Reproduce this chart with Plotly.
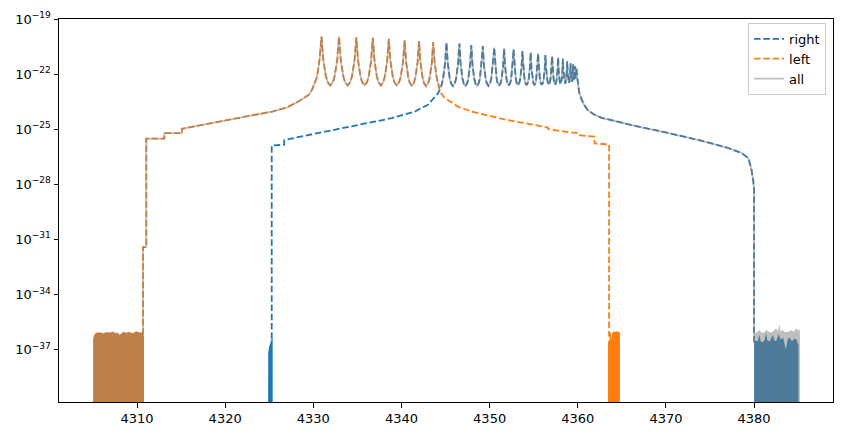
import plotly.graph_objects as go

# ---------------- data (values are log10 of intensity) ----------------
# "left" component: staircase rise, peak series, fall
left_rise_x = [4310.68, 4310.68, 4311.05, 4311.05, 4313.1, 4313.1, 4315.1, 4315.1, 4316.5, 4317.8,
               4319.7, 4321.6, 4323.5, 4325.35, 4327.0, 4328.36, 4329.5, 4329.86, 4330.43, 4330.7]
left_rise_y = [-36.2, -31.43, -31.43, -25.52, -25.52, -25.22, -25.22, -24.98, -24.85, -24.73,
               -24.57, -24.40, -24.23, -24.04, -23.82, -23.48, -23.12, -22.85, -22.14, -21.23]
left_peak_x = [4330.93, 4332.91, 4334.88, 4336.75, 4338.56, 4340.36, 4341.99, 4343.60]
left_peak_top = [-19.96, -19.96, -20.0, -20.03, -20.08, -20.16, -20.2, -20.26]
left_valley = [-22.62, -22.62, -22.62, -22.62, -22.62, -22.64, -22.66]
left_fall_x = [4343.67, 4343.76, 4344.0, 4344.36, 4344.9, 4346.4, 4348.0, 4350.2, 4352.0, 4353.95,
               4356.6, 4356.65, 4358.0, 4360.0, 4360.05, 4361.1, 4361.85, 4361.9, 4363.43, 4363.55, 4363.55]
left_fall_y = [-20.74, -21.39, -22.2, -22.95, -23.31, -23.77, -24.05, -24.31, -24.5, -24.67,
               -24.91, -24.99, -25.1, -25.22, -25.32, -25.38, -25.4, -25.78, -25.83, -25.83, -36.3]

# "right" component
right_rise_x = [4325.28, 4325.28, 4326.7, 4326.7, 4328.4, 4331.4, 4335.1, 4338.9, 4341.5, 4343.0,
                4344.16, 4344.5, 4344.73, 4344.95, 4345.03]
right_rise_y = [-36.42, -25.89, -25.85, -25.6, -25.42, -25.12, -24.76, -24.4, -24.04, -23.67,
                -23.04, -22.68, -22.21, -21.4, -20.76]
right_peak_x = [4345.10, 4346.57, 4347.92, 4349.22, 4350.51, 4351.64, 4352.71, 4353.72, 4354.66, 4355.49,
                4356.33, 4357.09, 4357.77, 4358.31, 4358.80, 4359.18, 4359.46, 4359.68, 4359.85]
right_peak_top = [-20.28, -20.34, -20.43, -20.48, -20.55, -20.62, -20.66, -20.74, -20.82, -20.88,
                  -20.96, -21.03, -21.1, -21.17, -21.3, -21.41, -21.47, -21.57, -21.65]
right_valley = [-22.66, -22.66, -22.65, -22.64, -22.63, -22.62, -22.61, -22.6, -22.6, -22.59,
                -22.58, -22.57, -22.55, -22.52, -22.48, -22.42, -22.35, -22.25]
right_fall_x = [4359.92, 4360.0, 4360.16, 4360.45, 4360.75, 4361.1, 4361.85, 4362.7, 4363.9, 4366.5,
                4370.3, 4374.1, 4376.9, 4378.6, 4379.35, 4379.7, 4379.9, 4380.0, 4380.0]
right_fall_y = [-22.1, -22.5, -23.0, -23.4, -23.7, -23.95, -24.2, -24.38, -24.53, -24.82,
                -25.21, -25.64, -26.0, -26.3, -26.58, -27.2, -27.8, -28.3, -36.6]

# "all": valley where the two components cross
all_cross_x = [4344.3]
all_cross_y = [-22.72]

# peak profile: offset (fraction of spacing), depth (fraction of top-valley)
shape_f = [0.045, 0.1, 0.25, 0.35]
shape_d = [0.2, 0.47, 0.81, 0.93]

# noise floors (top envelope, log10)
left_noise_x = [4305.03, 4305.12, 4305.3, 4305.6, 4305.9, 4306.2, 4306.5, 4306.9, 4307.3, 4307.6,
                4307.8, 4308.0, 4308.4, 4308.8, 4309.1, 4309.5, 4309.9, 4310.3, 4310.68, 4310.79]
left_noise_y = [-36.45, -36.22, -36.1, -36.06, -36.1, -36.13, -36.08, -36.08, -36.06, -36.13,
                -36.06, -36.22, -36.05, -36.1, -36.04, -36.13, -36.02, -36.06, -36.13, -36.32]
left_mid_noise_x = [4363.43, 4363.6, 4363.65, 4363.75, 4363.84, 4363.9, 4364.1, 4364.3, 4364.48, 4364.65, 4364.78]
left_mid_noise_y = [-36.55, -36.5, -36.1, -36.08, -36.45, -36.1, -36.0, -36.05, -36.0, -36.05, -36.1]
right_mid_noise_x = [4324.86, 4324.88, 4324.98, 4325.1, 4325.17, 4325.28, 4325.39]
right_mid_noise_y = [-37.5, -37.22, -36.86, -36.65, -36.5, -36.42, -36.4]
right_noise_x = [4380.0, 4380.15, 4380.4, 4380.6, 4380.75, 4381.0, 4381.2, 4381.35, 4381.5, 4381.8,
                 4382.1, 4382.3, 4382.5, 4382.8, 4383.0, 4383.3, 4383.6, 4383.8, 4384.0, 4384.3,
                 4384.6, 4384.8, 4384.95, 4385.04]
right_noise_y = [-36.6, -36.52, -36.55, -36.2, -36.55, -36.6, -36.45, -36.1, -36.5, -36.55,
                 -36.2, -36.5, -36.55, -36.15, -36.45, -36.35, -37.0, -36.45, -36.35, -36.55,
                 -36.4, -36.45, -36.7, -36.75]
all_noise_l_x = [4305.03, 4305.12, 4305.3, 4305.6, 4305.9, 4306.2, 4306.6, 4306.9, 4307.3, 4307.6,
                 4307.9, 4308.2, 4308.5, 4308.8, 4309.2, 4309.5, 4309.9, 4310.3, 4310.6, 4310.79]
all_noise_l_y = [-36.5, -36.25, -36.14, -36.1, -36.06, -36.1, -36.04, -36.1, -35.99, -36.1,
                 -36.12, -36.18, -36.02, -36.08, -36.06, -36.12, -36.0, -36.1, -36.04, -36.3]
all_noise_r_x = [4380.0, 4380.3, 4380.6, 4380.9, 4381.2, 4381.4, 4381.7, 4382.0, 4382.3, 4382.5,
                 4382.7, 4382.86, 4383.0, 4383.25, 4383.5, 4383.8, 4384.0, 4384.3, 4384.5, 4384.75,
                 4385.0, 4385.2]
all_noise_r_y = [-36.2, -36.05, -35.95, -36.1, -36.05, -35.93, -36.05, -36.08, -35.95, -35.86,
                 -36.0, -35.6, -36.0, -35.95, -36.05, -36.05, -36.0, -35.95, -36.05, -35.86,
                 -35.95, -35.95]

FLOOR = -45.0

blue = "#1f77b4"
orange = "#ff7f0e"
gray = "rgba(128,128,128,0.5)"
DASH = "6.5px,2.8px"
LW = 1.8


def peaks(cx, top, val):
    xs, ys = [], []
    n = len(cx)
    for i in range(n):
        if i > 0:
            s = cx[i] - cx[i - 1]
            v = val[i - 1]
            for f, d in reversed(list(zip(shape_f, shape_d))):
                xs.append(cx[i] - f * s)
                ys.append(top[i] - d * (top[i] - v))
        xs.append(cx[i])
        ys.append(top[i])
        if i < n - 1:
            s = cx[i + 1] - cx[i]
            v = val[i]
            for f, d in zip(shape_f, shape_d):
                xs.append(cx[i] + f * s)
                ys.append(top[i] - d * (top[i] - v))
            xs.append(cx[i] + 0.5 * s)
            ys.append(v)
    return xs, ys


def lin(v):
    return [10 ** t for t in v]


lpx, lpy = peaks(left_peak_x, left_peak_top, left_valley)
rpx, rpy = peaks(right_peak_x, right_peak_top, right_valley)

left_x = left_rise_x + lpx + left_fall_x
left_y = left_rise_y + lpy + left_fall_y
right_x = right_rise_x + rpx + right_fall_x
right_y = right_rise_y + rpy + right_fall_y

lf = [(a, b) for a, b in zip(left_fall_x, left_fall_y) if a < 4344.2]
rr = [(a, b) for a, b in zip(right_rise_x, right_rise_y) if a >= 4344.5]
all_x = left_rise_x + lpx + [a for a, _ in lf] + all_cross_x + [a for a, _ in rr] + rpx + right_fall_x
all_y = left_rise_y + lpy + [b for _, b in lf] + all_cross_y + [b for _, b in rr] + rpy + right_fall_y


def noise(xs, ys, color):
    return go.Scatter(x=[xs[0]] + xs + [xs[-1]], y=lin([FLOOR] + ys + [FLOOR]),
                      mode="lines", fill="toself", fillcolor=color,
                      line=dict(width=0, color=color), showlegend=False, hoverinfo="skip")


fig = go.Figure()
# right
fig.add_trace(noise(right_mid_noise_x, right_mid_noise_y, blue))
fig.add_trace(noise(right_noise_x, right_noise_y, blue))
fig.add_trace(go.Scatter(x=right_x, y=lin(right_y), mode="lines", name="right",
                         line=dict(color=blue, width=LW, dash=DASH)))
# left
fig.add_trace(noise(left_noise_x, left_noise_y, orange))
fig.add_trace(noise(left_mid_noise_x, left_mid_noise_y, orange))
fig.add_trace(go.Scatter(x=left_x, y=lin(left_y), mode="lines", name="left",
                         line=dict(color=orange, width=LW, dash=DASH)))
# all
fig.add_trace(noise(all_noise_l_x, all_noise_l_y, gray))
fig.add_trace(noise(all_noise_r_x, all_noise_r_y, gray))
fig.add_trace(go.Scatter(x=all_x, y=lin(all_y), mode="lines", name="all",
                         line=dict(color=gray, width=LW)))

ytick_exp = [-19, -22, -25, -28, -31, -34, -37]
xtick_vals = [4310, 4320, 4330, 4340, 4350, 4360, 4370, 4380]

fig.update_layout(
    width=844, height=436,
    margin=dict(l=59, r=10, t=17, b=34),
    plot_bgcolor="white", paper_bgcolor="white",
    font=dict(family="DejaVu Sans", size=13, color="black"),
    legend=dict(x=0.991, y=0.99, xanchor="right", yanchor="top",
                bordercolor="#cccccc", borderwidth=1, bgcolor="rgba(255,255,255,0.8)",
                font=dict(size=13), itemwidth=30, tracegroupgap=0),
    xaxis=dict(range=[4301.15, 4388.95], tickvals=xtick_vals, ticks="outside", ticklen=4.5,
               tickwidth=1, tickcolor="black", showline=True, linecolor="black", linewidth=1,
               mirror=True, showgrid=False, zeroline=False),
    yaxis=dict(type="log", range=[-39.86, -19.0], tickvals=[10.0 ** e for e in ytick_exp],
               ticktext=["10<sup>\u2212%d</sup>" % (-e) for e in ytick_exp],
               ticks="outside", ticklen=4.5, tickwidth=1, tickcolor="black",
               showline=True, linecolor="black", linewidth=1, mirror=True,
               showgrid=False, zeroline=False),
)

fig.write_html("out.html")
